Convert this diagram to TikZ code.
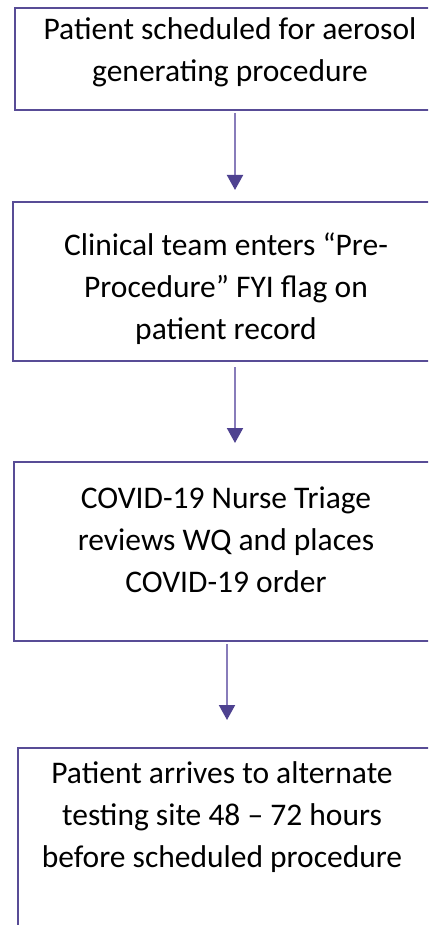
\documentclass[tikz,border=0pt]{standalone}
\usepackage{fontspec}
\setmainfont{Carlito}
\usetikzlibrary{arrows.meta}
\definecolor{boxc}{RGB}{88,76,150}
\definecolor{shaft}{RGB}{136,124,186}
\definecolor{headc}{RGB}{78,66,144}
\newcommand{\topst}{\rule{0pt}{30pt}}
\newcommand{\botst}{\rule[-30pt]{0pt}{30pt}}
\begin{document}
\begin{tikzpicture}[x=1pt,y=-1pt,
  box/.style={draw=boxc, line width=2.4pt, outer sep=0pt, inner sep=0pt, anchor=north west, minimum width=430pt},
  txt/.style={inner sep=0pt, align=center, font=\fontsize{31.5}{42}\selectfont},
  arr/.style={draw=shaft, line width=2pt, -{Triangle[width=16pt,length=15pt,color=headc,fill=headc]}}]
\clip (0,0) rectangle (428,925);
\node[box, minimum height=102pt] (b1) at (15,8) {};
\node[box, minimum height=159pt] (b2) at (13,202) {};
\node[box, minimum height=179pt] (b3) at (14,462) {};
\node[box, minimum height=260pt] (b4) at (18,748) {};
\node[txt] (t1) at (230,60.5) {\topst Patient scheduled for aerosol\\generating procedure\botst};
\node[txt] (t2) at (226,297) {\topst Clinical team enters “Pre-\\Procedure” FYI flag on\\patient record\botst};
\node[txt] (t3) at (226,550) {\topst COVID-19 Nurse Triage\\reviews WQ and places\\COVID-19 order\botst};
\node[txt] (t4) at (222,825.5) {\topst Patient arrives to alternate\\testing site 48 – 72 hours\\before scheduled procedure\botst};
\draw[arr] ([xshift=220pt,yshift=-3pt]b1.south west) -- ([xshift=222pt,yshift=12pt]b2.north west);
\draw[arr] ([xshift=222pt,yshift=-6pt]b2.south west) -- ([xshift=221pt,yshift=19pt]b3.north west);
\draw[arr] ([xshift=213pt,yshift=-3pt]b3.south west) -- ([xshift=209pt,yshift=28pt]b4.north west);
\end{tikzpicture}
\end{document}
